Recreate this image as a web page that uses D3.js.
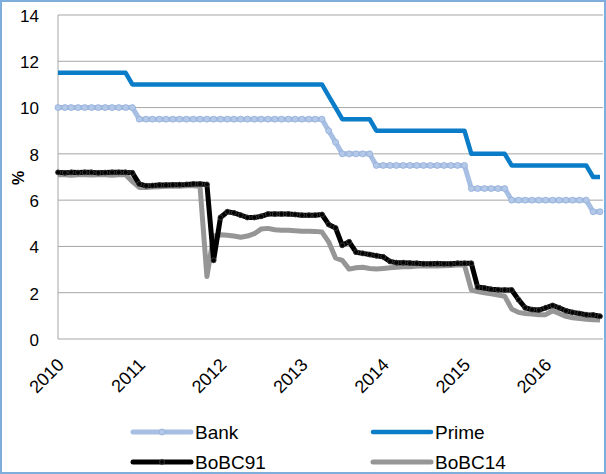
<!DOCTYPE html>
<html>
<head>
<meta charset="utf-8">
<script src="https://cdn.jsdelivr.net/npm/d3@7"></script>
<style>
  body { margin: 0; background: #fff; }
  svg { display: block; font-family: "Liberation Sans", Arial, sans-serif; }
  .grid line { stroke: #a6a6a6; stroke-width: 1; }
  .tick-label { font-size: 17px; fill: #000; }
  .x-label { font-size: 18px; fill: #000; }
  .legend-label { font-size: 19px; fill: #000; }
</style>
</head>
<body>
<svg id="chart" width="606" height="474"></svg>
<script>
// ── Data (monthly, Jan 2010 – Sep 2016) ─────────────────────────────────────
const months = d3.timeMonth.range(new Date(2010, 0, 1), new Date(2016, 9, 1));

const bank = [
  10, 10, 10, 10, 10, 10, 10, 10, 10, 10, 10, 10,
  9.5, 9.5, 9.5, 9.5, 9.5, 9.5, 9.5, 9.5, 9.5, 9.5, 9.5, 9.5,
  9.5, 9.5, 9.5, 9.5, 9.5, 9.5, 9.5, 9.5, 9.5, 9.5, 9.5, 9.5,
  9.5, 9.5, 9.5, 9.5, 9.0, 8.5, 8.0, 8.0, 8.0, 8.0, 8.0, 7.5,
  7.5, 7.5, 7.5, 7.5, 7.5, 7.5, 7.5, 7.5, 7.5, 7.5, 7.5, 7.5,
  7.5, 6.5, 6.5, 6.5, 6.5, 6.5, 6.5, 6.0, 6.0, 6.0, 6.0, 6.0,
  6.0, 6.0, 6.0, 6.0, 6.0, 6.0, 6.0, 5.5, 5.5
];
const prime = [
  11.5, 11.5, 11.5, 11.5, 11.5, 11.5, 11.5, 11.5, 11.5, 11.5, 11.5, 11,
  11, 11, 11, 11, 11, 11, 11, 11, 11, 11, 11, 11,
  11, 11, 11, 11, 11, 11, 11, 11, 11, 11, 11, 11,
  11, 11, 11, 11, 10.5, 10, 9.5, 9.5, 9.5, 9.5, 9.5, 9,
  9, 9, 9, 9, 9, 9, 9, 9, 9, 9, 9, 9,
  9, 8, 8, 8, 8, 8, 8, 7.5, 7.5, 7.5, 7.5, 7.5,
  7.5, 7.5, 7.5, 7.5, 7.5, 7.5, 7.5, 7, 7
];
const bobc91 = [
  7.2, 7.18, 7.2, 7.19, 7.2, 7.2, 7.18, 7.19, 7.2, 7.2, 7.2, 7.18,
  6.7, 6.62, 6.63, 6.65, 6.65, 6.66, 6.67, 6.68, 6.7, 6.7, 6.68, 3.4,
  5.25, 5.5, 5.45, 5.35, 5.25, 5.25, 5.3, 5.4, 5.4, 5.4, 5.4, 5.38,
  5.35, 5.35, 5.35, 5.38, 4.95, 4.8, 4.05, 4.2, 3.75, 3.7, 3.65, 3.6,
  3.55, 3.35, 3.3, 3.3, 3.28, 3.27, 3.25, 3.25, 3.26, 3.25, 3.25, 3.27,
  3.27, 3.27, 2.25, 2.2, 2.15, 2.13, 2.12, 2.12, 1.7, 1.35, 1.27, 1.25,
  1.35, 1.45, 1.35, 1.22, 1.15, 1.1, 1.05, 1.04, 0.98
];
const bobc14 = [
  7.1, 7.1, 7.08, 7.1, 7.1, 7.09, 7.1, 7.1, 7.08, 7.1, 7.1, 6.8,
  6.55, 6.55, 6.57, 6.58, 6.6, 6.6, 6.6, 6.62, 6.62, 6.6, 2.7, 4.45,
  4.5, 4.48, 4.45, 4.4, 4.45, 4.55, 4.75, 4.78, 4.72, 4.7, 4.7, 4.68,
  4.66, 4.66, 4.65, 4.62, 4.2, 3.5, 3.4, 3.02, 3.08, 3.1, 3.05, 3.02,
  3.05, 3.08, 3.1, 3.12, 3.12, 3.15, 3.15, 3.15, 3.15, 3.17, 3.18, 3.2,
  3.2, 2.12, 2.05, 2.0, 1.95, 1.9, 1.85, 1.3, 1.15, 1.1, 1.08, 1.05,
  1.05, 1.22, 1.1, 0.98, 0.92, 0.88, 0.85, 0.83, 0.82
];

const yTicks = [0, 2, 4, 6, 8, 10, 12, 14];
const years = [2010, 2011, 2012, 2013, 2014, 2015, 2016];

// ── Layout ───────────────────────────────────────────────────────────────────
const svg = d3.select('#chart');
const W = 606, H = 474;
const plot = { left: 58, right: 603, top: 15, bottom: 339 };

const x = d3.scaleTime()
	.domain([months[0], months[months.length - 1]])
	.range([plot.left, 600]);
const y = d3.scaleLinear().domain([0, 14]).range([plot.bottom, plot.top]);

// outer border
svg.append('rect')
	.attr('x', 1).attr('y', 1)
	.attr('width', W - 2).attr('height', H - 2)
	.attr('fill', 'none')
	.attr('stroke', '#7eaedc')
	.attr('stroke-width', 2);

// gridlines
svg.append('g').attr('class', 'grid')
	.selectAll('line')
	.data(yTicks)
	.join('line')
	.attr('x1', plot.left).attr('x2', plot.right)
	.attr('y1', d => y(d)).attr('y2', d => y(d));

// left axis line
svg.append('line')
	.attr('x1', plot.left).attr('x2', plot.left)
	.attr('y1', plot.top).attr('y2', plot.bottom)
	.attr('stroke', '#a6a6a6');

// y tick labels
svg.append('g')
	.selectAll('text')
	.data(yTicks)
	.join('text')
	.attr('class', 'tick-label')
	.attr('x', 39)
	.attr('y', d => y(d))
	.attr('dy', '0.4em')
	.attr('text-anchor', 'end')
	.text(d => d);

// y title
svg.append('text')
	.attr('transform', 'translate(24,178) rotate(-90)')
	.attr('text-anchor', 'middle')
	.attr('font-size', 16)
	.attr('font-weight', 'bold')
	.text('%');

// x tick labels
svg.append('g')
	.selectAll('text')
	.data(years)
	.join('text')
	.attr('class', 'x-label')
	.attr('text-anchor', 'end')
	.attr('transform', d => `translate(${x(new Date(d, 0, 1)) + 7},${plot.bottom + 27}) rotate(-45)`)
	.text(d => d);

// ── Series ───────────────────────────────────────────────────────────────────
const series = [
	{ name: 'Bank',   values: bank,   color: '#a7bfe3', width: 5,   marker: 'bank' },
	{ name: 'Prime',  values: prime,  color: '#0a7cc8', width: 4.5, marker: null },
	{ name: 'BoBC91', values: bobc91, color: '#000000', width: 5,   marker: 'dot' },
	{ name: 'BoBC14', values: bobc14, color: '#969696', width: 5,   marker: null }
];
const markerStyle = {
	bank: { r: 3, fill: '#b4c9e8', stroke: '#93aedb' },
	dot:  { r: 2.5, fill: '#000', stroke: '#444' }
};
const drawOrder = ['Bank', 'Prime', 'BoBC14', 'BoBC91'];

const line = d3.line()
	.x((d, i) => x(months[i]))
	.y(d => y(d));

const seriesG = svg.append('g');
drawOrder.forEach(name => {
	const s = series.find(d => d.name === name);
	seriesG.append('path')
		.datum(s.values)
		.attr('fill', 'none')
		.attr('stroke', s.color)
		.attr('stroke-width', s.width)
		.attr('stroke-linejoin', 'round')
		.attr('d', line);

	if (s.marker) {
		const m = markerStyle[s.marker];
		seriesG.append('g').selectAll('circle')
			.data(s.values)
			.join('circle')
			.attr('cx', (d, i) => x(months[i]))
			.attr('cy', d => y(d))
			.attr('r', m.r)
			.attr('fill', m.fill)
			.attr('stroke', m.stroke)
			.attr('stroke-width', 0.8);
	}
});

// ── Legend ───────────────────────────────────────────────────────────────────
const legendPos = [
	{ name: 'Bank',   x: 133, y: 432 },
	{ name: 'Prime',  x: 373, y: 432 },
	{ name: 'BoBC91', x: 133, y: 462 },
	{ name: 'BoBC14', x: 373, y: 462 }
];
const legend = svg.append('g');
legendPos.forEach(p => {
	const s = series.find(d => d.name === p.name);
	const g = legend.append('g').attr('transform', `translate(${p.x},${p.y})`);
	g.append('line')
		.attr('x1', 0).attr('x2', 58)
		.attr('stroke', s.color)
		.attr('stroke-width', s.width)
		.attr('stroke-linecap', 'round');
	if (s.marker) {
		const m = markerStyle[s.marker];
		g.append('circle').attr('cx', 29).attr('r', m.r)
			.attr('fill', m.fill).attr('stroke', m.stroke).attr('stroke-width', 0.8);
	}
	g.append('text')
		.attr('class', 'legend-label')
		.attr('x', 62)
		.attr('dy', '0.36em')
		.text(s.name);
});
</script>
</body>
</html>
